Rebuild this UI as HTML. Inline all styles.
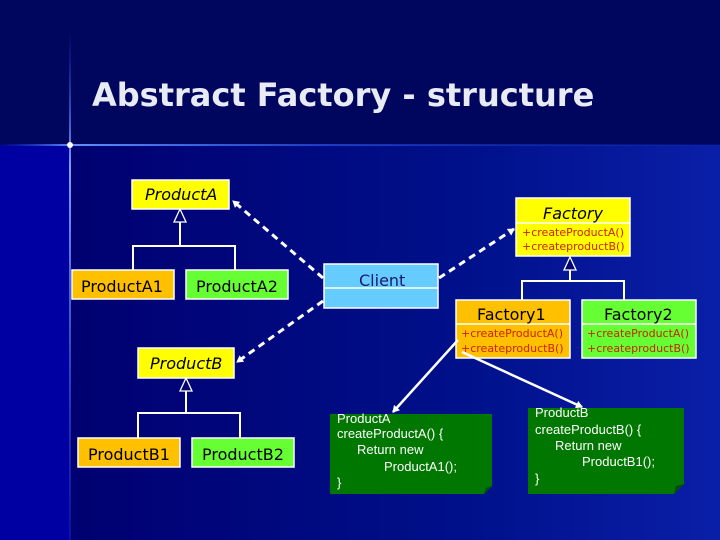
<!DOCTYPE html>
<html><head><meta charset="utf-8"><style>
body{margin:0;width:720px;height:540px;overflow:hidden;background:#000066}
svg{display:block}
text{font-family:"DejaVu Sans","Liberation Sans",sans-serif}
</style></head><body>
<svg width="720" height="540" viewBox="0 0 720 540" xmlns="http://www.w3.org/2000/svg">
<defs>
<linearGradient id="bg" x1="0" y1="0" x2="1" y2="0">
<stop offset="0" stop-color="#000070"/><stop offset="0.6" stop-color="#00108a"/><stop offset="1" stop-color="#0a1fa8"/>
</linearGradient>
<linearGradient id="hl" x1="0" y1="0" x2="1" y2="0">
<stop offset="0" stop-color="#2050ff" stop-opacity="0"/><stop offset="0.1" stop-color="#6090ff"/><stop offset="0.45" stop-color="#3060ff" stop-opacity="0.6"/><stop offset="1" stop-color="#1030c0" stop-opacity="0.2"/>
</linearGradient>
<linearGradient id="vl" x1="0" y1="0" x2="0" y2="1">
<stop offset="0" stop-color="#2050ff" stop-opacity="0"/><stop offset="0.27" stop-color="#80a0ff"/><stop offset="1" stop-color="#2040d0" stop-opacity="0.3"/>
</linearGradient>
<marker id="ah" markerWidth="8" markerHeight="8" refX="6" refY="4" orient="auto" markerUnits="userSpaceOnUse"><path d="M0,0 L7,4 L0,8 Z" fill="#fff"/></marker>
</defs>
<rect width="720" height="540" fill="#000070"/>
<rect x="0" y="0" width="720" height="145" fill="#00065e"/>
<rect x="70" y="145" width="650" height="395" fill="url(#bg)"/>
<rect x="0" y="145" width="70" height="395" fill="#0000a2"/>
<rect x="0" y="144" width="720" height="2" fill="url(#hl)"/>
<rect x="69" y="30" width="2" height="510" fill="url(#vl)"/>
<circle cx="70" cy="145" r="3" fill="#fff"/>
<text x="92" y="106" font-weight="bold" font-size="32" fill="#e8eaf4">Abstract Factory - structure</text>

<g stroke="#fff" stroke-width="1.5">
<rect x="132" y="180" width="97" height="29" fill="#ffff00"/>
<rect x="72" y="270" width="102" height="29" fill="#ffc000"/>
<rect x="186" y="270" width="102" height="29" fill="#66ff33"/>
<rect x="138" y="348" width="96" height="30" fill="#ffff00"/>
<rect x="78" y="438" width="102" height="29" fill="#ffc000"/>
<rect x="192" y="438" width="102" height="29" fill="#66ff33"/>
<rect x="324" y="264" width="114" height="44" fill="#66ccff"/>
<line x1="324" y1="288" x2="438" y2="288"/>
<rect x="516" y="198" width="114" height="58" fill="#ffff00"/>
<line x1="516" y1="223" x2="630" y2="223"/>
<rect x="456" y="300" width="114" height="58" fill="#ffc000"/>
<line x1="456" y1="324" x2="570" y2="324"/>
<rect x="582" y="300" width="114" height="58" fill="#66ff33"/>
<line x1="582" y1="324" x2="696" y2="324"/>
</g>
<g stroke="#fff" stroke-width="2" fill="none">
<path d="M180,222 V246 M133,270 V246 H235 V270"/>
<path d="M186,391 V413 M138,438 V413 H240 V438"/>
<path d="M570,270 V281 M522,300 V281 H624 V300"/>
</g>
<g stroke="#fff" stroke-width="1.3" fill="#000070">
<path d="M180,209 L174,222 L186,222 Z"/>
<path d="M186,378 L180,391 L192,391 Z"/>
<path d="M570,257 L564,270 L576,270 Z"/>
</g>
<g stroke="#fff" stroke-width="3" stroke-dasharray="7,5" fill="none" marker-end="url(#ah)">
<line x1="323" y1="278" x2="233" y2="201"/>
<line x1="323" y1="301" x2="237" y2="362"/>
<line x1="439" y1="278" x2="514" y2="229"/>
</g>
<g stroke="#fff" stroke-width="2.5" fill="none" marker-end="url(#ah)">
<line x1="458" y1="340" x2="393" y2="412"/>
<line x1="462" y1="352" x2="582" y2="407"/>
</g>

<g fill="#000" font-size="16">
<text x="145" y="200" font-style="italic">ProductA</text>
<text x="81" y="292">ProductA1</text>
<text x="196" y="292">ProductA2</text>
<text x="150" y="369" font-style="italic">ProductB</text>
<text x="88" y="460">ProductB1</text>
<text x="202" y="460">ProductB2</text>
<text x="543" y="219" font-style="italic">Factory</text>
<text x="477" y="320">Factory1</text>
<text x="604" y="320">Factory2</text>
</g>
<text x="359" y="286" font-size="16" fill="#1a1a6a">Client</text>
<g fill="#cc2200" font-size="11">
<text x="522" y="236">+createProductA()</text>
<text x="522" y="250">+createproductB()</text>
<text x="461" y="337">+createProductA()</text>
<text x="461" y="352">+createproductB()</text>
<text x="587" y="337">+createProductA()</text>
<text x="587" y="352">+createproductB()</text>
</g>

<path d="M330,414 H492 V486 L484,494 H330 Z" fill="#007700"/>
<path d="M484,494 L486,488 L492,486 Z" fill="#0a4a0a"/>
<path d="M528,408 H684 V484 L674,494 H528 Z" fill="#007700"/>
<path d="M674,494 L676,486 L684,484 Z" fill="#0a4a0a"/>
<g fill="#fff" font-size="13">
<text x="337" y="423" style="font-family:'Liberation Sans',sans-serif">ProductA</text>
<text x="337" y="438" style="font-family:'Liberation Sans',sans-serif">createProductA() {</text>
<text x="357" y="454" style="font-family:'Liberation Sans',sans-serif">Return new</text>
<text x="384" y="471" style="font-family:'Liberation Sans',sans-serif">ProductA1();</text>
<text x="337" y="487" style="font-family:'Liberation Sans',sans-serif">}</text>
<text x="535" y="417" style="font-family:'Liberation Sans',sans-serif">ProductB</text>
<text x="535" y="434" style="font-family:'Liberation Sans',sans-serif">createProductB() {</text>
<text x="555" y="450" style="font-family:'Liberation Sans',sans-serif">Return new</text>
<text x="582" y="466" style="font-family:'Liberation Sans',sans-serif">ProductB1();</text>
<text x="535" y="483" style="font-family:'Liberation Sans',sans-serif">}</text>
</g>
</svg>
</body></html>
